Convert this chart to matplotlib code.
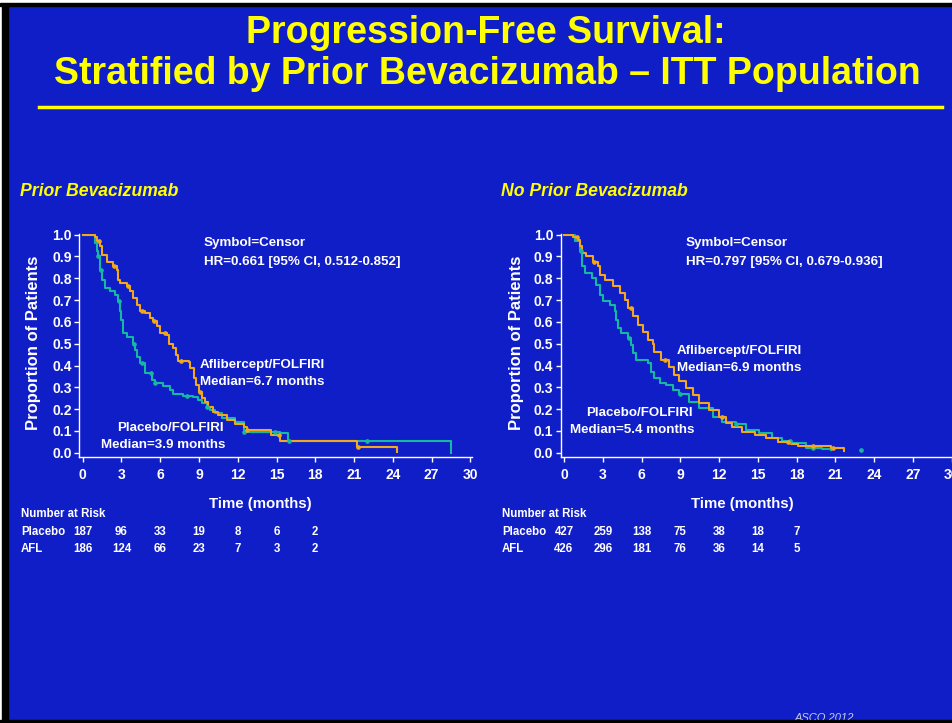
import numpy as np
import matplotlib
matplotlib.use("Agg")
import matplotlib.pyplot as plt
from matplotlib.patches import Rectangle
from matplotlib.lines import Line2D
from matplotlib.transforms import blended_transform_factory

# PFS Kaplan-Meier data, prior bevacizumab subgroup
prior_afl_t = [0, 0.95, 1.1, 1.35, 1.5, 1.86, 2.38, 2.63, 2.76, 2.9, 3.4, 3.67, 3.9, 4.2, 4.44,
               4.8, 5.2, 5.47, 5.73, 6.0, 6.5, 6.7, 7.0, 7.2, 7.4, 8.2, 8.3, 8.6, 8.8, 9.0, 9.2,
               9.5, 9.7, 10.1, 10.5, 11.15, 11.8, 12.45, 12.7, 14.6, 15.27, 21.2, 24.3]
prior_afl_s = [1.0, 0.99, 0.97, 0.946, 0.908, 0.877, 0.855, 0.84, 0.793, 0.778, 0.763, 0.74, 0.71,
               0.678, 0.648, 0.64, 0.617, 0.602, 0.579, 0.548, 0.54, 0.498, 0.479, 0.449, 0.423,
               0.418, 0.387, 0.341, 0.311, 0.28, 0.25, 0.234, 0.211, 0.188, 0.173, 0.15, 0.132,
               0.116, 0.104, 0.081, 0.055, 0.028, 0.005]
prior_pbo_t = [0, 0.95, 1.1, 1.2, 1.35, 1.47, 1.73, 2.1, 2.5, 2.76, 2.9, 3.0, 3.15, 3.4, 3.9,
               4.05, 4.2, 4.44, 4.8, 5.35, 5.6, 6.25, 6.76, 7.0, 7.8, 8.57, 8.96, 9.2, 9.6, 9.86,
               10.25, 10.8, 11.8, 12.45, 15.3, 15.9, 28.5]
prior_pbo_s = [1.0, 0.96, 0.923, 0.9, 0.84, 0.79, 0.755, 0.74, 0.725, 0.694, 0.648, 0.61, 0.548,
               0.533, 0.497, 0.472, 0.441, 0.41, 0.365, 0.335, 0.319, 0.307, 0.289, 0.27, 0.26,
               0.257, 0.243, 0.23, 0.211, 0.196, 0.18, 0.158, 0.142, 0.097, 0.089, 0.055, 0.0]
prior_afl_cens = [1.3, 2.4, 3.5, 4.6, 5.5, 6.4, 7.6, 9.1, 12.7, 15.2, 21.3]
prior_pbo_cens = [1.2, 1.4, 2.8, 4.0, 4.6, 5.3, 5.6, 8.1, 9.6, 12.5, 14.9, 16.0, 22.0]

# no prior bevacizumab subgroup
noprior_afl_t = [0, 0.72, 1.1, 1.23, 1.36, 1.74, 2.26, 2.64, 2.77, 3.15, 3.8, 4.3, 4.7, 4.95,
                 5.33, 5.7, 6.1, 6.5, 6.9, 7.0, 7.5, 8.15, 8.54, 8.92, 9.44, 9.95, 10.46, 11.23,
                 12.0, 12.5, 13.0, 13.8, 14.8, 15.6, 16.6, 17.6, 18.15, 20.7, 21.7]
noprior_afl_s = [1.0, 0.99, 0.977, 0.946, 0.916, 0.9, 0.877, 0.855, 0.816, 0.793, 0.763, 0.732,
                 0.701, 0.663, 0.625, 0.587, 0.556, 0.518, 0.497, 0.46, 0.426, 0.395, 0.357,
                 0.328, 0.296, 0.265, 0.228, 0.196, 0.165, 0.138, 0.119, 0.096, 0.081, 0.066,
                 0.05, 0.04, 0.031, 0.02, 0.01]
noprior_pbo_t = [0, 0.85, 1.23, 1.36, 1.6, 2.13, 2.5, 2.77, 3.03, 3.54, 3.92, 4.05, 4.18, 4.44,
                 4.95, 5.2, 5.33, 5.6, 6.5, 6.74, 7.0, 7.4, 7.9, 8.4, 8.9, 9.7, 10.46, 11.5,
                 12.25, 13.3, 14.05, 15.1, 16.1, 16.9, 17.6, 18.7, 19.95, 20.7]
noprior_pbo_s = [1.0, 0.97, 0.923, 0.855, 0.824, 0.8, 0.77, 0.724, 0.694, 0.678, 0.648, 0.61,
                 0.571, 0.548, 0.525, 0.495, 0.456, 0.426, 0.413, 0.372, 0.341, 0.319, 0.311,
                 0.288, 0.27, 0.234, 0.204, 0.165, 0.142, 0.132, 0.104, 0.089, 0.066, 0.055,
                 0.043, 0.023, 0.017, 0.013]
noprior_afl_cens = [1.0, 2.3, 5.2, 7.8, 12.2, 17.3, 19.3, 20.8]
noprior_pbo_cens = [1.3, 5.0, 9.0, 13.3, 17.5, 19.3, 23.0]

# number at risk
risk_times = [0, 3, 6, 9, 12, 15, 18]
prior_pbo_risk = [187, 96, 33, 19, 8, 6, 2]
prior_afl_risk = [186, 124, 66, 23, 7, 3, 2]
noprior_pbo_risk = [427, 259, 138, 75, 38, 18, 7]
noprior_afl_risk = [426, 296, 181, 76, 36, 14, 5]

BG = "#101EC8"
YELLOW = "#FFFF00"
ORANGE = "#F2A81D"
TEAL = "#17B8A0"

plt.rcParams["font.family"] = ["Liberation Sans", "DejaVu Sans"]
plt.rcParams["font.weight"] = "bold"

W, H = 952, 723
fig = plt.figure(figsize=(W / 100, H / 100), dpi=100, facecolor=BG)


def fx(px):
    return px / W


def fy(py):
    return 1 - py / H


def step_value(times, surv, t):
    i = np.searchsorted(times, t, side="right") - 1
    return surv[max(i, 0)]


def km_panel(left_px, afl_t, afl_s, pbo_t, pbo_s, afl_c, pbo_c):
    # axes spans x -0.25..30.1 and y -0.02..1.005 at ~12.92 px/month
    x0 = left_px - 0.25 * 12.92
    ax = fig.add_axes([fx(x0), fy(457.1), 30.35 * 12.92 / W, (457.1 - 233.6) / H])
    ax.set_facecolor("none")
    ax.step(pbo_t, pbo_s, where="post", color=TEAL, lw=1.5, zorder=3)
    ax.step(afl_t, afl_s, where="post", color=ORANGE, lw=1.5, zorder=4)
    ax.plot(pbo_c, [step_value(pbo_t, pbo_s, c) for c in pbo_c], "o", ms=2.5,
            mfc=TEAL, mec=TEAL, mew=0.8, zorder=5)
    ax.plot(afl_c, [step_value(afl_t, afl_s, c) for c in afl_c], "o", ms=2.5,
            mfc=ORANGE, mec=ORANGE, mew=0.8, zorder=5)
    ax.set_xlim(-0.25, 30.1)
    ax.set_ylim(-0.02, 1.005)
    ax.set_xticks(np.arange(0, 31, 3))
    ax.set_yticks(np.arange(0, 1.01, 0.1))
    ax.set_yticklabels([f"{v:.1f}" for v in np.arange(0, 1.01, 0.1)])
    for s in ("top", "right"):
        ax.spines[s].set_visible(False)
    for s in ("left", "bottom"):
        ax.spines[s].set_color("white")
        ax.spines[s].set_linewidth(1.0)
    ax.tick_params(colors="white", labelcolor="white", labelsize=10, length=3.5,
                   width=1.0, direction="out")
    ax.tick_params(axis="y", pad=2)
    ax.tick_params(axis="x", pad=4)
    for lab in ax.get_xticklabels() + ax.get_yticklabels():
        lab.set_fontweight("bold")
    return ax


axL = km_panel(82.7, prior_afl_t, prior_afl_s, prior_pbo_t, prior_pbo_s,
               prior_afl_cens, prior_pbo_cens)
axR = km_panel(564.0, noprior_afl_t, noprior_afl_s, noprior_pbo_t, noprior_pbo_s,
               noprior_afl_cens, noprior_pbo_cens)

# title block
fig.text(fx(486), fy(33), "Progression-Free Survival:", color=YELLOW, fontsize=27,
         ha="center", va="center", fontweight="bold")
fig.text(fx(487), fy(74), "Stratified by Prior Bevacizumab \u2013 ITT Population", color=YELLOW,
         fontsize=27, ha="center", va="center", fontweight="bold")
fig.add_artist(Line2D([fx(39), fx(942)], [fy(106.5), fy(106.5)], color=YELLOW, lw=2.5))

# subtitles
fig.text(fx(20), fy(192), "Prior Bevacizumab", color=YELLOW, fontsize=12.7,
         style="italic", fontweight="bold", ha="left", va="center")
fig.text(fx(501), fy(192), "No Prior Bevacizumab", color=YELLOW, fontsize=12.7,
         style="italic", fontweight="bold", ha="left", va="center")

txt = dict(color="white", fontsize=9.6, fontweight="bold", ha="left", va="center")
# left panel annotations
fig.text(fx(204), fy(243), "Symbol=Censor", **txt)
fig.text(fx(204), fy(262), "HR=0.661 [95% CI, 0.512-0.852]", **txt)
fig.text(fx(200), fy(365), "Aflibercept/FOLFIRI", **txt)
fig.text(fx(200), fy(382), "Median=6.7 months", **txt)
fig.text(fx(117), fy(428), "Placebo/FOLFIRI", **txt)
fig.text(fx(101), fy(445), "Median=3.9 months", **txt)
# right panel annotations
fig.text(fx(686), fy(243), "Symbol=Censor", **txt)
fig.text(fx(686), fy(262), "HR=0.797 [95% CI, 0.679-0.936]", **txt)
fig.text(fx(677), fy(351), "Aflibercept/FOLFIRI", **txt)
fig.text(fx(677), fy(368), "Median=6.9 months", **txt)
fig.text(fx(586), fy(413), "Placebo/FOLFIRI", **txt)
fig.text(fx(570), fy(430), "Median=5.4 months", **txt)

# axis titles
lab = dict(color="white", fontweight="bold", ha="center", va="center")
fig.text(fx(34), fy(343), "Proportion of Patients", rotation=90, fontsize=12, **lab)
fig.text(fx(516), fy(343), "Proportion of Patients", rotation=90, fontsize=12, **lab)
fig.text(fx(260), fy(504), "Time (months)", fontsize=10.8, **lab)
fig.text(fx(742), fy(504), "Time (months)", fontsize=10.8, **lab)

# number at risk tables
small = dict(color="white", fontsize=8.3, fontweight="bold", va="center")
for ax, xlab, pbo, afl in ((axL, 21, prior_pbo_risk, prior_afl_risk),
                           (axR, 502, noprior_pbo_risk, noprior_afl_risk)):
    fig.text(fx(xlab), fy(514), "Number at Risk", ha="left", **small)
    fig.text(fx(xlab), fy(532), "Placebo", ha="left", **small)
    fig.text(fx(xlab), fy(549), "AFL", ha="left", **small)
    tr = blended_transform_factory(ax.transData, fig.transFigure)
    for t, a, b in zip(risk_times, pbo, afl):
        fig.text(t, fy(532), str(a), transform=tr, ha="center", **small)
        fig.text(t, fy(549), str(b), transform=tr, ha="center", **small)

fig.text(fx(824), fy(718), "ASCO 2012", color="#C8CCE8", fontsize=8, style="italic",
         fontweight="normal", ha="center", va="center")

# slide frame
frame = [((0, 0), fx(2), 1, "white"), ((fx(2), 0), fx(6), 1, "black"),
         ((0, fy(3)), 1, 3 / H, "white"), ((0, fy(6)), 1, 3 / H, "black"),
         ((0, 0), 1, 3 / H, "black")]
for xy, w, h, c in frame:
    fig.patches.append(Rectangle(xy, w, h, transform=fig.transFigure, color=c, zorder=10))

fig.savefig("out.png", dpi=100, facecolor=BG)
